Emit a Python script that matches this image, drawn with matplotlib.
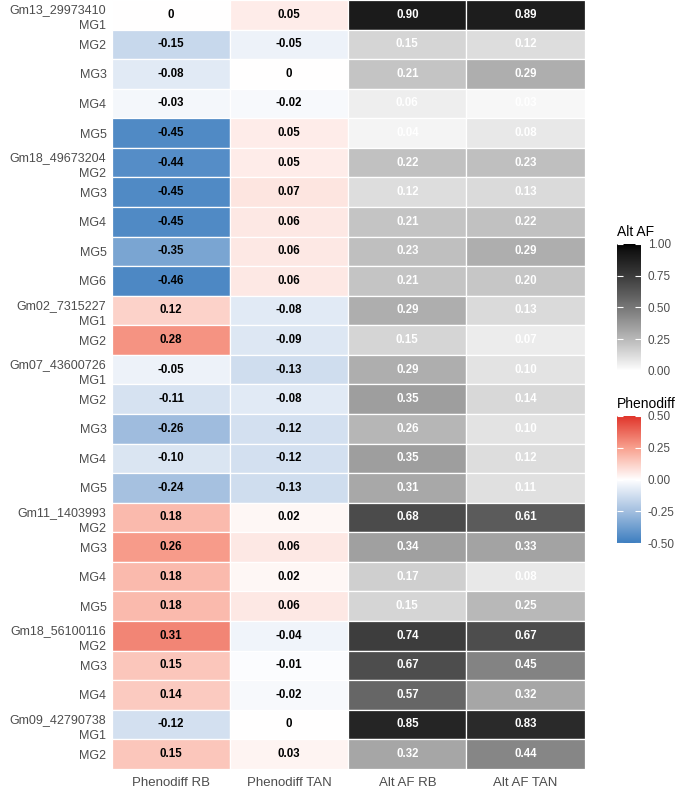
import matplotlib
matplotlib.use("Agg")
import matplotlib.pyplot as plt
import numpy as np
from matplotlib.colors import LinearSegmentedColormap, Normalize
from matplotlib.cm import ScalarMappable

plt.rcParams['font.family'] = ['Liberation Sans', 'DejaVu Sans']

# row labels (marker + maturity group)
row_labels = [
    "Gm13_29973410\nMG1", "MG2", "MG3", "MG4", "MG5",
    "Gm18_49673204\nMG2", "MG3", "MG4", "MG5", "MG6",
    "Gm02_7315227\nMG1", "MG2",
    "Gm07_43600726\nMG1", "MG2", "MG3", "MG4", "MG5",
    "Gm11_1403993\nMG2", "MG3", "MG4", "MG5",
    "Gm18_56100116\nMG2", "MG3", "MG4",
    "Gm09_42790738\nMG1", "MG2",
]
col_labels = ["Phenodiff RB", "Phenodiff TAN", "Alt AF RB", "Alt AF TAN"]

phenodiff_rb = [0, -0.15, -0.08, -0.03, -0.45,
                -0.44, -0.45, -0.45, -0.35, -0.46,
                0.12, 0.28,
                -0.05, -0.11, -0.26, -0.10, -0.24,
                0.18, 0.26, 0.18, 0.18,
                0.31, 0.15, 0.14,
                -0.12, 0.15]
phenodiff_tan = [0.05, -0.05, 0, -0.02, 0.05,
                 0.05, 0.07, 0.06, 0.06, 0.06,
                 -0.08, -0.09,
                 -0.13, -0.08, -0.12, -0.12, -0.13,
                 0.02, 0.06, 0.02, 0.06,
                 -0.04, -0.01, -0.02,
                 0, 0.03]
alt_af_rb = [0.90, 0.15, 0.21, 0.06, 0.04,
             0.22, 0.12, 0.21, 0.23, 0.21,
             0.29, 0.15,
             0.29, 0.35, 0.26, 0.35, 0.31,
             0.68, 0.34, 0.17, 0.15,
             0.74, 0.67, 0.57,
             0.85, 0.32]
alt_af_tan = [0.89, 0.12, 0.29, 0.03, 0.08,
              0.23, 0.13, 0.22, 0.29, 0.20,
              0.13, 0.07,
              0.10, 0.14, 0.10, 0.12, 0.11,
              0.61, 0.33, 0.08, 0.25,
              0.67, 0.45, 0.32,
              0.83, 0.44]

# colour scales
div_cmap = LinearSegmentedColormap.from_list(
    "pheno", [(0.0, "#3d7ebf"), (0.25, "#a3bfdf"), (0.5, "#ffffff"),
              (0.75, "#f8a08e"), (1.0, "#e0342a")])
# white -> black interpolated in L* (like ggplot)
Ls = np.linspace(100, 0, 50)
Y = np.where(Ls > 8, ((Ls + 16) / 116) ** 3, Ls / 903.3)
g = np.where(Y <= 0.0031308, 12.92 * Y, 1.055 * Y ** (1 / 2.4) - 0.055)
grey_cmap = LinearSegmentedColormap.from_list("altaf", [(v, v, v) for v in g])
div_norm = Normalize(-0.5, 0.5)
grey_norm = Normalize(0, 1)

cols = [phenodiff_rb, phenodiff_tan, alt_af_rb, alt_af_tan]
n = len(row_labels)

fig = plt.figure(figsize=(6.76, 7.91), dpi=100)
ax = fig.add_axes([0.1657, 0.028, 0.699, 0.972])

for j, vals in enumerate(cols):
    for i, v in enumerate(vals):
        if j < 2:
            fc = div_cmap(div_norm(v))
            tc = "black"
        else:
            fc = grey_cmap(grey_norm(v))
            tc = "white"
        ax.add_patch(plt.Rectangle((j, i), 1, 1, facecolor=fc,
                                   edgecolor="white", linewidth=0.9))
        txt = "0" if v == 0 else f"{v:.2f}"
        ax.text(j + 0.5, i + 0.5, txt, ha="center", va="center",
                color=tc, fontsize=8.3, fontweight="bold")

ax.set_xlim(0, 4)
ax.set_ylim(n, 0)
ax.set_xticks(np.arange(4) + 0.5)
ax.set_xticklabels(col_labels, fontsize=9.5, color="#4d4d4d")
ax.set_yticks(np.arange(n) + 0.5)
ax.set_yticklabels(row_labels, fontsize=9, color="#4d4d4d", linespacing=1.45)
ax.tick_params(axis="y", length=0, pad=4)
ax.tick_params(axis="x", length=0, pad=6)
for s in ax.spines.values():
    s.set_visible(False)

# legends
def add_bar(bottom, cmap, norm, ticks, title):
    cax = fig.add_axes([0.913, bottom, 0.035, 0.1606])
    cb = fig.colorbar(ScalarMappable(norm=norm, cmap=cmap), cax=cax)
    cb.outline.set_visible(False)
    cb.set_ticks(ticks)
    cb.set_ticklabels([f"{t:.2f}" for t in ticks])
    cax.yaxis.set_ticks_position("both")
    cax.tick_params(axis="y", which="both", direction="in", length=4,
                    color="white", width=0.8, labelsize=8.5, labelcolor="#4d4d4d",
                    labelright=True, labelleft=False, pad=5)
    cax.set_title(title, fontsize=10, loc="left", pad=6, x=-0.02)

add_bar(0.531, grey_cmap, grey_norm, [0, 0.25, 0.5, 0.75, 1.0], "Alt AF")
add_bar(0.3135, div_cmap, div_norm, [-0.5, -0.25, 0, 0.25, 0.5], "Phenodiff")

fig.savefig("out.png", dpi=100)
